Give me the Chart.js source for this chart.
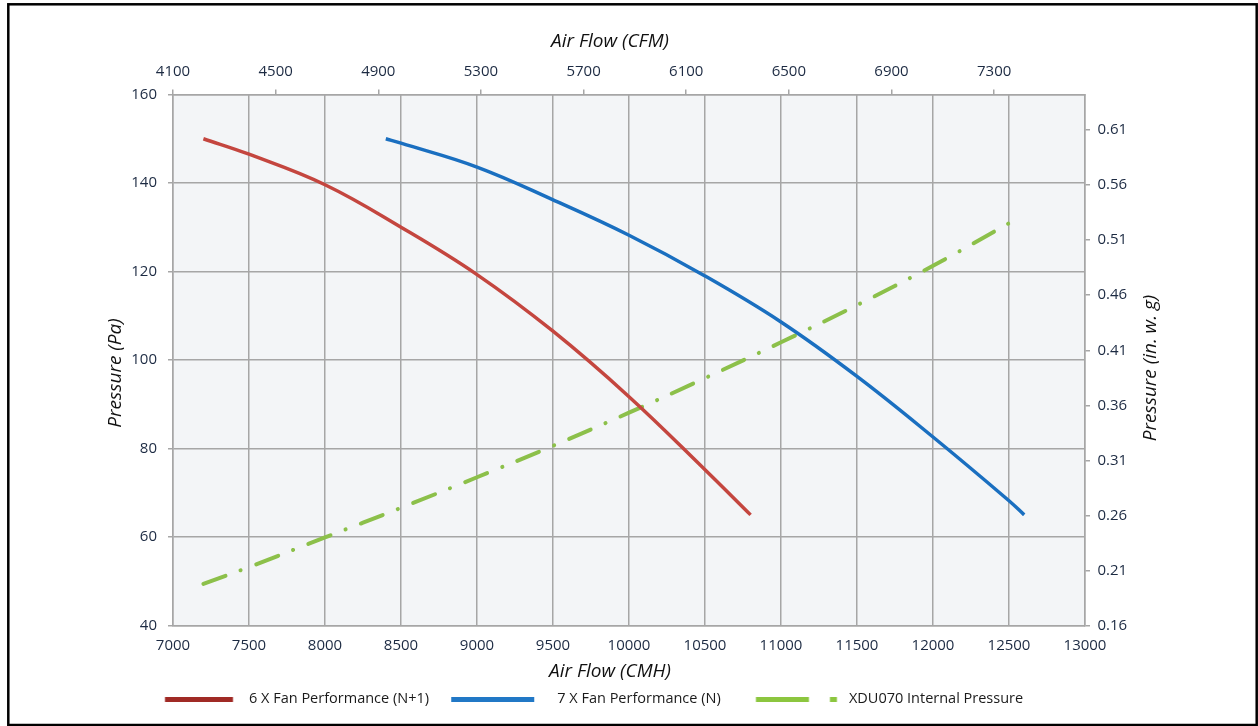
<!DOCTYPE html>
<html><head><meta charset="utf-8">
<script src="https://cdn.jsdelivr.net/npm/chart.js@4/dist/chart.umd.min.js"></script>
<style>html,body{margin:0;padding:0;background:#fff}</style>
</head><body>
<canvas id="c" width="1258" height="726"></canvas>
<script>
// ---- data ----
const flowN1  = [7200, 7500, 8000, 8500, 9000, 9500, 10000, 10500, 10800];
const pressN1 = [150, 146.5, 139.6, 130.0, 119.3, 106.5, 91.7, 75.2, 65];
const flowN   = [8400, 8500, 9000, 9500, 10000, 10500, 11000, 11500, 12000, 12500, 12600];
const pressN  = [150, 149, 143.6, 136.2, 128.2, 119.0, 108.6, 96.3, 82.6, 68.2, 65];
const flowInt  = [7200, 7500, 8000, 8500, 9000, 9500, 10000, 10500, 11000, 11500, 12000, 12530];
const pressInt = [49.4, 53.2, 59.9, 66.6, 73.5, 80.6, 88.1, 95.9, 104.0, 112.4, 121.3, 131.5];
const seriesNames = ['6 X Fan Performance (N+1)', '7 X Fan Performance (N)', 'XDU070 Internal Pressure'];
const cmhTicksStep = 500;
const paTicksStep = 20;
const cfmTicks = [4100, 4500, 4900, 5300, 5700, 6100, 6500, 6900, 7300];
const inwgTicks = [0.16, 0.21, 0.26, 0.31, 0.36, 0.41, 0.46, 0.51, 0.56, 0.61];
const titles = {bottom: 'Air Flow (CMH)', top: 'Air Flow (CFM)', left: 'Pressure (Pa)', right: 'Pressure (in. w. g)'};

// ---- style ----
const FONT = "'Open Sans', 'Noto Sans', sans-serif";
const tickColor = '#1c2a42';
const gridC = '#a6a6a6';
const colRed = '#c4463f', colBlue = '#1a6fc0', colGreen = '#8cc04a';
const legRed = '#a02a25', legBlue = '#2178c6', legGreen = '#8cc63f';
const legFontSize = 14.5, legPad = 4, hf = legFontSize / 2;
const legendFont = legFontSize + "px " + FONT;

// legend geometry from reference (text start x, swatch segments relative to text start)
const textStarts = [249, 561, 848];
const swatchSegs = [[[-84, -16]], [[-106, -23]], [[-93, -40], [-19, -12]]];
const swatchCols = [legRed, legBlue, legGreen];

const mctx = document.createElement('canvas').getContext('2d');
mctx.font = legendFont;
const T = seriesNames.map(t => mctx.measureText(t).width);
let W = Math.round(((textStarts[1] - textStarts[0] - T[0]) + (textStarts[2] - textStarts[1] - T[1])) / 2 - hf - legPad);
if (W < 110) W = 110;
const L = T.reduce((s, t) => s + W + hf + t + legPad, 0);
const x1Target = textStarts[0] - hf - W;

function makeSwatch(segs, color) {
  const c = document.createElement('canvas');
  c.width = W; c.height = 5;
  const g = c.getContext('2d');
  g.fillStyle = color;
  segs.forEach(([a, b]) => g.fillRect(a + W + hf, 0, b - a, 5));
  return c;
}
const swatches = swatchSegs.map((s, i) => makeSwatch(s, swatchCols[i]));

const tickFont = {family: FONT, size: 15};

const decor = {
  id: 'decor',
  afterLayout(chart) {
    const lg = chart.legend;
    if (lg) { lg.left = 0; lg.right = 2 * x1Target + L - legPad; }
  },
  beforeDraw(chart) {
    const {ctx, chartArea: a} = chart;
    ctx.save();
    ctx.fillStyle = '#ffffff';
    ctx.fillRect(0, 0, chart.width, chart.height);
    ctx.fillStyle = '#f3f5f7';
    ctx.fillRect(a.left, a.top, a.right - a.left, a.bottom - a.top);
    ctx.restore();
  },
  afterDraw(chart) {
    const {ctx} = chart;
    ctx.save();
    ctx.fillStyle = '#111111';
    ctx.font = 'italic 19px ' + FONT;
    ctx.textAlign = 'center';
    ctx.textBaseline = 'middle';
    ctx.fillText(titles.top, 610, 42);
    ctx.fillText(titles.bottom, 610, 672);
    ctx.save(); ctx.translate(116, 373); ctx.rotate(-Math.PI / 2); ctx.fillText(titles.left, 0, 0); ctx.restore();
    ctx.save(); ctx.translate(1151, 368); ctx.rotate(-Math.PI / 2); ctx.fillText(titles.right, 0, 0); ctx.restore();
    ctx.strokeStyle = '#000';
    ctx.lineWidth = 2.5;
    ctx.strokeRect(8.3, 4.3, 1248.4, 720.7);
    ctx.restore();
  }
};

const toPts = (xs, ys) => xs.map((x, i) => ({x, y: ys[i]}));

new Chart(document.getElementById('c'), {
  type: 'line',
  data: {
    datasets: [
      {label: seriesNames[0], data: toPts(flowN1, pressN1), borderColor: colRed, borderWidth: 3.5, pointRadius: 0, tension: 0.4, xAxisID: 'x', yAxisID: 'y'},
      {label: seriesNames[1], data: toPts(flowN, pressN), borderColor: colBlue, borderWidth: 3.5, pointRadius: 0, tension: 0.4, xAxisID: 'x', yAxisID: 'y'},
      {label: seriesNames[2], data: toPts(flowInt, pressInt), borderColor: colGreen, borderWidth: 4, borderDash: [23.5, 16.3, 0.1, 16.3], borderCapStyle: 'round', pointRadius: 0, tension: 0.4, xAxisID: 'x', yAxisID: 'y'}
    ]
  },
  options: {
    responsive: false,
    animation: false,
    devicePixelRatio: 1,
    layout: {padding: {left: 0, right: 0, top: 0, bottom: 9.5}},
    plugins: {
      tooltip: {enabled: false},
      legend: {
        position: 'bottom',
        align: 'center',
        labels: {
          usePointStyle: true,
          pointStyleWidth: W,
          boxHeight: 5,
          padding: legPad,
          font: {family: FONT, size: legFontSize},
          color: '#1a1a1a',
          generateLabels: chart => chart.data.datasets.map((ds, i) => ({
            text: ds.label, pointStyle: swatches[i], fillStyle: swatchCols[i], strokeStyle: swatchCols[i],
            lineWidth: 0, hidden: false, datasetIndex: i, fontColor: '#1a1a1a', rotation: 0
          }))
        }
      }
    },
    scales: {
      x: {
        type: 'linear', position: 'bottom', min: 7000, max: 13000,
        ticks: {stepSize: cmhTicksStep, autoSkip: false, maxRotation: 0, padding: 11, color: tickColor, font: tickFont, callback: v => String(v)},
        grid: {color: gridC, lineWidth: 1.5, drawTicks: false},
        border: {display: true, color: gridC, width: 1.5},
        afterFit: s => { s.height = 62.5; }
      },
      x2: {
        type: 'linear', position: 'top', min: 4100, max: 7654,
        ticks: {autoSkip: false, maxRotation: 0, padding: 8.6, color: tickColor, font: tickFont, callback: v => String(v)},
        afterBuildTicks: s => { s.ticks = cfmTicks.map(v => ({value: v})); },
        grid: {drawOnChartArea: false, drawTicks: true, tickLength: 5, color: gridC, lineWidth: 1.5},
        border: {display: true, color: gridC, width: 1.5},
        afterFit: s => { s.height = 94.5; }
      },
      y: {
        type: 'linear', position: 'left', min: 40, max: 160,
        ticks: {stepSize: paTicksStep, padding: 11, color: tickColor, font: tickFont},
        grid: {color: gridC, lineWidth: 1.5, tickLength: 5},
        border: {display: true, color: gridC, width: 1.5},
        afterFit: s => { s.width = 173; }
      },
      y2: {
        type: 'linear', position: 'right', min: 0.16, max: 0.6423,
        ticks: {padding: 7.5, color: tickColor, font: tickFont, callback: v => v.toFixed(2)},
        afterBuildTicks: s => { s.ticks = inwgTicks.map(v => ({value: v})); },
        grid: {drawOnChartArea: false, tickLength: 5, color: gridC, lineWidth: 1.5},
        border: {display: true, color: gridC, width: 1.5},
        afterFit: s => { s.width = 173; }
      }
    }
  },
  plugins: [decor]
});
</script>
</body></html>
